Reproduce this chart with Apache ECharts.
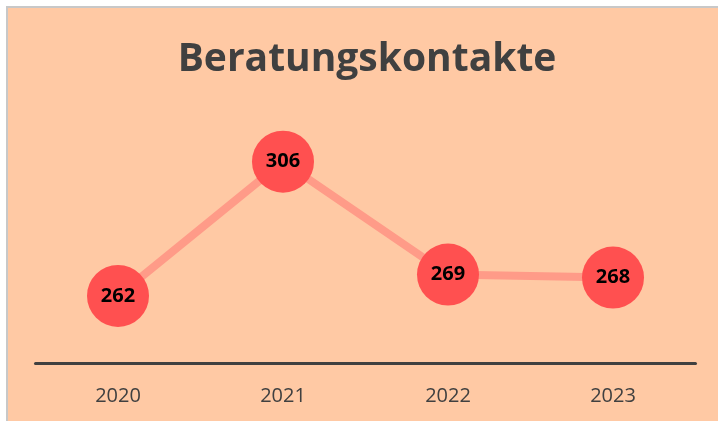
<!DOCTYPE html>
<html>
<head>
<meta charset="utf-8">
<script src="https://cdn.jsdelivr.net/npm/echarts@6/dist/echarts.min.js"></script>
<style>
  html, body { margin: 0; padding: 0; background: #fff; }
  .frame {
    position: absolute; left: 6px; top: 6px; width: 712px; height: 415px;
    border-left: 2px solid #c8c8c8; border-top: 2px solid #c8c8c8;
    box-sizing: border-box;
  }
  #chart { position: absolute; left: 8px; top: 8px; width: 710px; height: 413px; }
</style>
</head>
<body>
<div class="frame"></div>
<div id="chart"></div>
<script>
const years = ['2020', '2021', '2022', '2023'];
const contacts = [262, 306, 269, 268];

const chart = echarts.init(document.getElementById('chart'));
chart.setOption({
  backgroundColor: '#FFC9A4',
  animation: false,
  title: {
    text: 'Beratungskontakte',
    left: 354,
    top: 27,
    textAlign: 'center',
    textStyle: {
      fontFamily: 'Open Sans',
      fontWeight: 'bold',
      fontSize: 39,
      color: '#404040'
    }
  },
  grid: { left: 27.5, right: 22.5, top: 111, bottom: 58 },
  xAxis: {
    type: 'category',
    data: years,
    boundaryGap: true,
    axisLine: { lineStyle: { color: '#404040', width: 3 } },
    axisTick: { show: false },
    axisLabel: {
      color: '#404040',
      fontFamily: 'Open Sans',
      fontSize: 20,
      margin: 23
    }
  },
  yAxis: {
    type: 'value',
    min: 240,
    max: 320,
    show: false
  },
  series: [{
    type: 'line',
    data: contacts,
    lineStyle: { color: '#FF9B88', width: 8 },
    symbol: 'circle',
    symbolSize: 62,
    itemStyle: { color: '#FF5050' },
    label: {
      show: true,
      position: 'inside',
      color: '#000',
      fontFamily: 'Open Sans',
      fontWeight: 'bold',
      fontSize: 20
    }
  }]
});
</script>
</body>
</html>
